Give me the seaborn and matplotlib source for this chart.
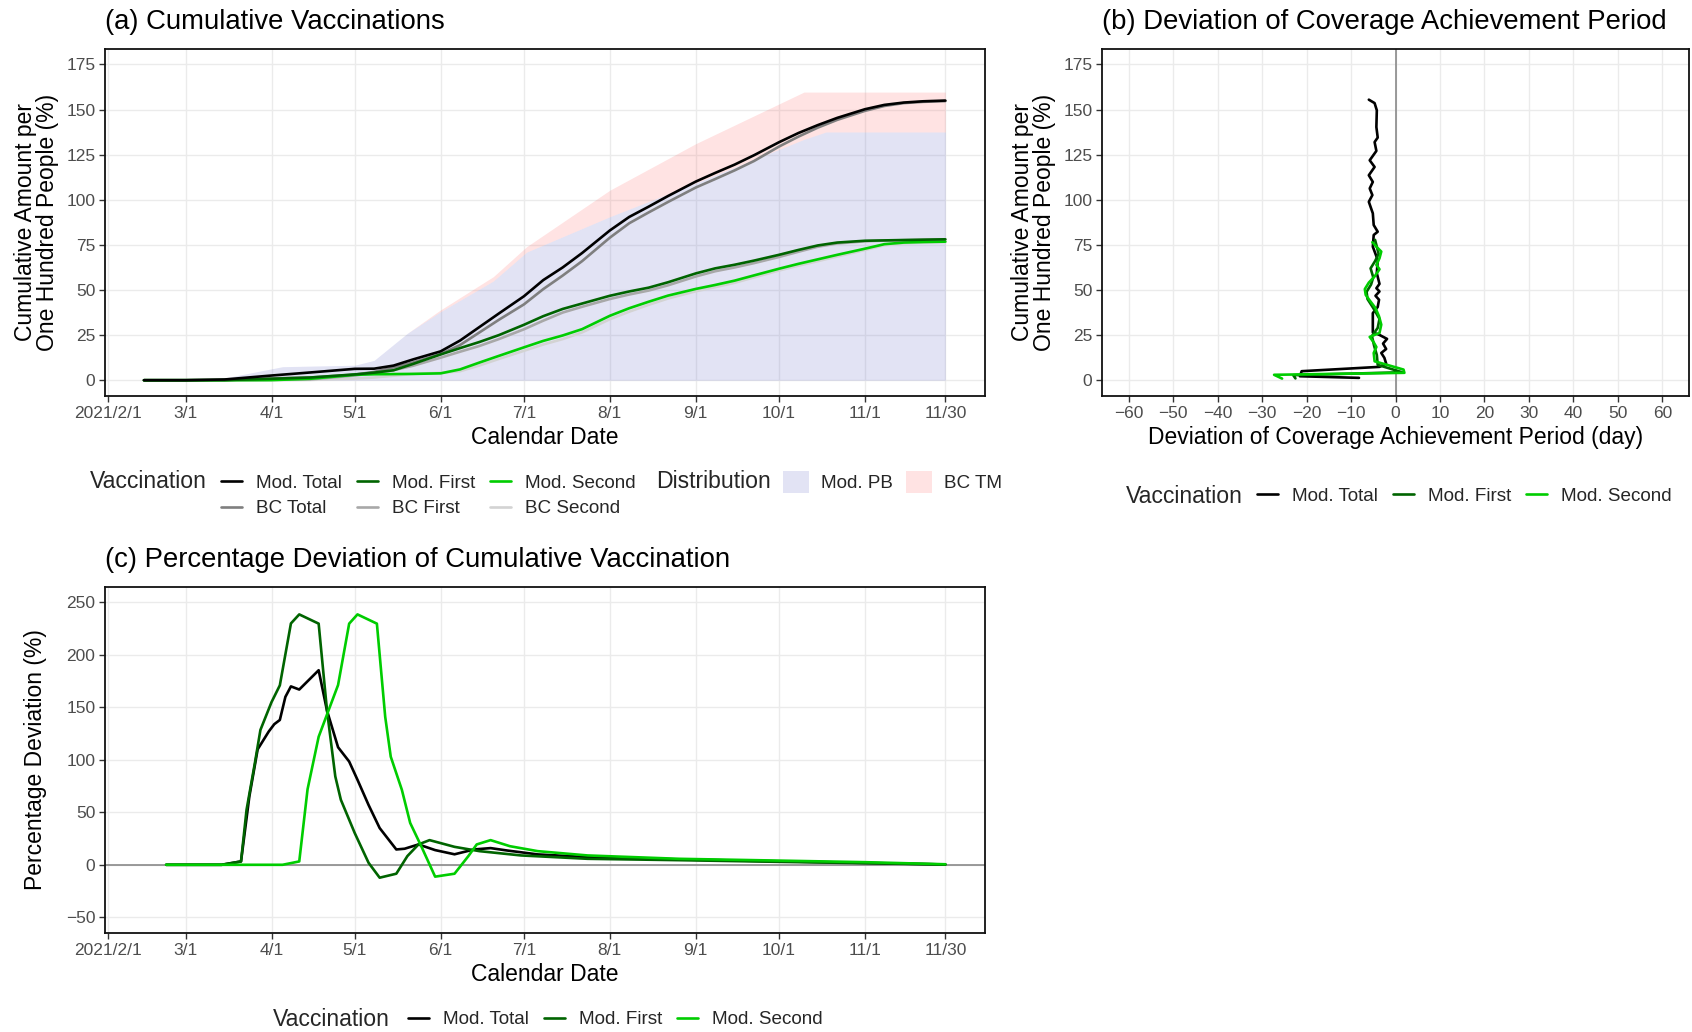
import numpy as np
import pandas as pd
import matplotlib
matplotlib.use("Agg")
import matplotlib.pyplot as plt
from matplotlib.lines import Line2D
from matplotlib.patches import Patch
import seaborn as sns

# ---------------- data ----------------
# (a) cumulative vaccinations per 100 people
a_dates = ["2021-02-14", "2021-03-01", "2021-03-15", "2021-04-01", "2021-04-15", "2021-05-01",
           "2021-05-08", "2021-05-15", "2021-05-22", "2021-06-01", "2021-06-08", "2021-06-15",
           "2021-06-22", "2021-07-01", "2021-07-08", "2021-07-15", "2021-07-22", "2021-08-01",
           "2021-08-08", "2021-08-15", "2021-08-22", "2021-09-01", "2021-09-08", "2021-09-15",
           "2021-09-22", "2021-10-01", "2021-10-08", "2021-10-15", "2021-10-22", "2021-11-01",
           "2021-11-08", "2021-11-15", "2021-11-22", "2021-11-30"]
a_mod_total = [0, 0, 0.4, 2.6, 4.3, 6.3, 6.4, 8.1, 11.5, 16.0, 22.0, 29.5, 37.0, 46.5, 55.5, 62.5,
               70.5, 83.0, 90.5, 96.2, 102.1, 110.1, 114.9, 119.5, 124.7, 131.9, 137.0, 141.4,
               145.4, 150.2, 152.6, 153.9, 154.6, 155.0]
a_bc_total = [0, 0, 0.1, 1.0, 1.5, 3.1, 4.6, 7.1, 9.8, 14.5, 19.5, 26.5, 33.5, 42.0, 50.5, 58.0,
              66.0, 79.0, 87.0, 93.0, 98.8, 106.8, 111.5, 116.3, 121.5, 129.5, 135.0, 140.0,
              144.3, 149.3, 152.0, 153.6, 154.3, 154.7]
a_mod_first = [0, 0, 0.1, 0.8, 1.5, 3.2, 4.2, 5.5, 9.0, 14.3, 17.8, 21.2, 25.0, 30.7, 35.5, 39.5,
               42.5, 46.8, 49.2, 51.3, 54.3, 59.2, 62.0, 64.0, 66.3, 69.5, 72.2, 74.7, 76.3,
               77.3, 77.5, 77.7, 77.9, 78.1]
a_bc_first = [0, 0, 0, 0.3, 0.45, 2.6, 4.0, 5.6, 8.0, 12.5, 15.8, 19.0, 22.8, 28.2, 33.0, 37.5,
              40.7, 45.0, 47.5, 49.7, 52.6, 57.5, 60.4, 62.5, 64.9, 68.3, 71.2, 74.0, 75.8,
              77.0, 77.4, 77.6, 77.8, 78.0]
a_mod_second = [0, 0, 0, 0.05, 0.8, 3.0, 3.3, 3.4, 3.5, 3.8, 6.0, 9.8, 13.5, 18.2, 21.8, 24.8,
                28.3, 35.7, 39.9, 43.5, 46.9, 50.6, 52.8, 55.2, 58.1, 61.8, 64.5, 67.0, 69.5,
                72.9, 75.4, 76.3, 76.6, 76.8]
a_bc_second = [0, 0, 0, 0, 0.2, 0.9, 1.5, 2.5, 3.5, 4.1, 5.0, 8.2, 11.8, 16.3, 19.8, 22.8, 26.5,
               33.8, 38.0, 41.8, 45.3, 49.3, 51.6, 54.0, 57.0, 60.8, 63.5, 66.0, 68.6, 72.2,
               74.8, 75.9, 76.3, 76.6]

# (a) distribution areas
dist_dates = ["2021-02-14", "2021-03-11", "2021-04-05", "2021-05-01", "2021-05-08", "2021-05-20",
              "2021-06-01", "2021-06-20", "2021-07-02", "2021-08-01", "2021-09-01", "2021-10-10",
              "2021-10-18", "2021-11-30"]
dist_mod_pb = [0, 0, 7.5, 8.3, 11.0, 26.0, 38.0, 55.0, 71.0, 90.6, 109.3, 133.5, 137.6, 137.6]
dist_bc_tm = [0, 0, 7.5, 8.3, 11.0, 26.0, 39.0, 57.4, 74.0, 105.3, 131.1, 159.7, 159.7, 159.7]

# (b) deviation of coverage achievement period (day) vs coverage
b_total_dev = [-8.2, -21.5, -21.1, -3.6, -2.1, -2.5, -3.2, -2.1, -2.8, -1.9, -3.6, -5.1, -5.1,
               -4.0, -3.7, -4.5, -3.6, -4.3, -3.6, -4.2, -4.0, -5.1, -4.9, -4.0, -4.9, -5.1,
               -6.0, -5.2, -5.8, -5.1, -6.0, -4.7, -5.8, -4.3, -4.7, -4.0, -4.3, -4.2, -4.7, -6.0]
b_total_cov = [1.3, 2.2, 5.0, 7.4, 9.2, 12.4, 15.1, 17.3, 20.3, 22.9, 25.1, 26.5, 37.2, 40.6,
               44.6, 46.8, 49.2, 51.0, 53.4, 59.3, 66.7, 74.0, 80.5, 82.3, 86.0, 92.5, 98.9,
               102.6, 106.3, 109.9, 113.6, 118.2, 121.9, 127.1, 132.0, 134.5, 140.3, 149.6,
               153.6, 155.5]
b_first_dev = [-22.5, -23.0, 1.5, -4.0, -4.2, -4.8, -5.3, -4.0, -3.6, -5.0, -6.3, -6.5, -5.5,
               -5.0, -5.6, -4.6, -3.8, -4.2, -4.6]
b_first_cov = [1.0, 2.8, 4.4, 8.5, 14.0, 19.0, 24.5, 29.0, 34.0, 40.0, 45.0, 49.0, 53.0, 57.0,
               62.0, 66.0, 70.0, 74.0, 77.8]
b_second_dev = [-25.5, -27.3, 2.0, 1.8, -4.7, -4.9, -4.3, -4.9, -5.8, -3.6, -3.2, -3.7, -4.5,
                -5.8, -6.7, -6.9, -6.0, -4.7, -3.6, -4.3, -3.6, -3.2, -4.3, -5.2]
b_second_cov = [0.9, 3.0, 4.1, 5.9, 10.5, 15.1, 18.4, 21.0, 24.0, 26.2, 30.8, 35.4, 40.0, 44.2,
                47.3, 50.5, 54.1, 57.5, 61.5, 63.9, 67.6, 71.3, 74.0, 76.5]

# (c) percentage deviation of cumulative vaccination
c_total_dates = ["2021-02-22", "2021-03-14", "2021-03-21", "2021-03-24", "2021-03-27", "2021-03-31",
                 "2021-04-02", "2021-04-04", "2021-04-06", "2021-04-08", "2021-04-11", "2021-04-18",
                 "2021-04-21", "2021-04-25", "2021-04-29", "2021-05-02", "2021-05-06", "2021-05-10",
                 "2021-05-16", "2021-05-19", "2021-05-24", "2021-05-30", "2021-06-06", "2021-06-13",
                 "2021-06-19", "2021-06-25", "2021-07-06", "2021-07-24", "2021-08-26", "2021-10-01",
                 "2021-11-01", "2021-11-30"]
c_total = [0, 0, 3.2, 65, 110, 127, 134, 138, 160, 170, 167, 185.4, 147, 112, 98.4, 81, 57, 35,
           14.6, 15.3, 19.4, 14, 10, 14.6, 15.9, 13.6, 9.9, 7.3, 5.1, 3.3, 1.8, 0.3]
c_first_dates = ["2021-02-22", "2021-03-14", "2021-03-21", "2021-03-23", "2021-03-26", "2021-03-28",
                 "2021-04-01", "2021-04-04", "2021-04-08", "2021-04-11", "2021-04-18", "2021-04-21",
                 "2021-04-24", "2021-04-26", "2021-05-01", "2021-05-06", "2021-05-10", "2021-05-16",
                 "2021-05-20", "2021-05-24", "2021-05-28", "2021-06-06", "2021-06-15", "2021-06-30",
                 "2021-07-24", "2021-08-26", "2021-10-01", "2021-11-01", "2021-11-30"]
c_first = [0, 0, 3.2, 52.5, 97, 128.5, 155, 171, 230, 238.6, 229.8, 147.3, 84.2, 62, 30.3, 1.9,
           -12.3, -8.5, 8.3, 19.4, 23.5, 17.1, 13, 8.9, 5.7, 4.4, 2.8, 1.5, 0.3]
c_second_dates = ["2021-02-22", "2021-04-05", "2021-04-11", "2021-04-14", "2021-04-18", "2021-04-25",
                  "2021-04-29", "2021-05-02", "2021-05-09", "2021-05-12", "2021-05-14", "2021-05-18",
                  "2021-05-21", "2021-05-25", "2021-05-30", "2021-06-06", "2021-06-11", "2021-06-14",
                  "2021-06-19", "2021-06-26", "2021-07-06", "2021-07-24", "2021-08-26", "2021-10-01",
                  "2021-11-01", "2021-11-30"]
c_second = [0, 0, 3.2, 72, 122, 171.3, 229.8, 238.6, 229.8, 141, 103, 71.5, 39.9, 17.7, -11.3,
            -8.5, 8.3, 19.4, 23.5, 17.7, 13, 8.9, 5.7, 4.0, 2.5, 0.5]

tick_dates = ["2021-02-01", "2021-03-01", "2021-04-01", "2021-05-01", "2021-06-01", "2021-07-01",
              "2021-08-01", "2021-09-01", "2021-10-01", "2021-11-01", "2021-11-30"]
tick_labels = ["2021/2/1", "3/1", "4/1", "5/1", "6/1", "7/1", "8/1", "9/1", "10/1", "11/1", "11/30"]

# ---------------- style ----------------
sns.set_theme(style="white")
plt.rcParams["font.family"] = ["Liberation Sans", "DejaVu Sans"]

colors = {"Mod. Total": "#000000", "Mod. First": "#006400", "Mod. Second": "#00CD00",
          "BC Total": "#7F7F7F", "BC First": "#A8A8A8", "BC Second": "#D3D3D3"}
fill_pb = (0.43, 0.45, 0.80, 0.20)
fill_tm = (1.00, 0.45, 0.45, 0.20)
LW = 1.9
TICK_FS, AX_FS, TITLE_FS, LEG_FS, LEGT_FS = 12.5, 16.5, 19.8, 13.6, 16.6

W, H = 1692, 1032
fig = plt.figure(figsize=(W / 100, H / 100), dpi=100)


def rect(l, t, r, b):
    return [l / W, 1 - b / H, (r - l) / W, (b - t) / H]


ax_a = fig.add_axes(rect(105, 48.7, 985, 396))
ax_b = fig.add_axes(rect(1102, 48.7, 1689, 396))
ax_c = fig.add_axes(rect(105, 586.7, 985, 933))


def style(ax):
    ax.set_facecolor("white")
    ax.grid(True, color="#EBEBEB", lw=1.0)
    ax.set_axisbelow(True)
    for s in ax.spines.values():
        s.set_color("#111111")
        s.set_linewidth(1.3)
        s.set_visible(True)
    ax.tick_params(axis="both", which="major", length=4, width=1.0, color="#333333",
                   labelcolor="#4D4D4D", labelsize=TICK_FS, pad=3, direction="out",
                   bottom=True, left=True, top=False, right=False)


t0 = pd.Timestamp("2021-02-01")
date_lim = (t0 - pd.Timedelta(days=1.05), t0 + pd.Timedelta(days=316.3))

# ---------------- (a) ----------------
style(ax_a)
dd = pd.to_datetime(dist_dates)
pb = np.array(dist_mod_pb)
tm = np.array(dist_bc_tm)
ax_a.fill_between(dd, 0, pb, color=fill_pb, lw=0, zorder=1)
ax_a.fill_between(dd, pb, np.maximum(tm, pb), color=fill_tm, lw=0, zorder=1)

series_a = {"BC Second": a_bc_second, "BC First": a_bc_first, "BC Total": a_bc_total,
            "Mod. Second": a_mod_second, "Mod. First": a_mod_first, "Mod. Total": a_mod_total}
df_a = pd.concat([pd.DataFrame({"date": pd.to_datetime(a_dates), "value": v, "series": k})
                  for k, v in series_a.items()], ignore_index=True)
sns.lineplot(data=df_a, x="date", y="value", hue="series", hue_order=list(series_a.keys()),
             palette=colors, linewidth=LW, legend=False, ax=ax_a, zorder=3)
ax_a.set_xlim(*date_lim)
ax_a.set_ylim(-8.75, 183.75)
ax_a.set_yticks([0, 25, 50, 75, 100, 125, 150, 175])
ax_a.set_xticks(pd.to_datetime(tick_dates))
ax_a.set_xticklabels(tick_labels)
ax_a.set_xlabel("Calendar Date", fontsize=AX_FS, color="black", labelpad=4)
ax_a.set_ylabel("Cumulative Amount per\nOne Hundred People (%)", fontsize=AX_FS, color="black",
                linespacing=0.95)
ax_a.yaxis.set_label_coords(-0.0527, 0.5)
ax_a.set_title("(a) Cumulative Vaccinations", loc="left", fontsize=TITLE_FS, pad=14, color="black")

# ---------------- (b) ----------------
style(ax_b)
ax_b.axvline(0, color="#808080", lw=1.1, zorder=1.5)
df_b = pd.concat([
    pd.DataFrame({"dev": b_total_dev, "cov": b_total_cov, "series": "Mod. Total"}),
    pd.DataFrame({"dev": b_first_dev, "cov": b_first_cov, "series": "Mod. First"}),
    pd.DataFrame({"dev": b_second_dev, "cov": b_second_cov, "series": "Mod. Second"}),
], ignore_index=True)
sns.lineplot(data=df_b, x="dev", y="cov", hue="series",
             hue_order=["Mod. Total", "Mod. First", "Mod. Second"], palette=colors,
             sort=False, estimator=None, linewidth=LW, legend=False, ax=ax_b, zorder=3)
ax_b.set_xlim(-66, 66)
ax_b.set_ylim(-8.75, 183.75)
ax_b.set_xticks(np.arange(-60, 61, 10))
ax_b.set_yticks([0, 25, 50, 75, 100, 125, 150, 175])
ax_b.set_xlabel("Deviation of Coverage Achievement Period (day)", fontsize=AX_FS, color="black",
                labelpad=4)
ax_b.set_ylabel("Cumulative Amount per\nOne Hundred People (%)", fontsize=AX_FS, color="black",
                linespacing=0.95)
ax_b.yaxis.set_label_coords(-0.0782, 0.5)
ax_b.set_title("(b) Deviation of Coverage Achievement Period", loc="left", fontsize=TITLE_FS,
               pad=14, color="black")

# ---------------- (c) ----------------
style(ax_c)
ax_c.axhline(0, color="#808080", lw=1.1, zorder=1.5)
df_c = pd.concat([
    pd.DataFrame({"date": pd.to_datetime(c_total_dates), "value": c_total, "series": "Mod. Total"}),
    pd.DataFrame({"date": pd.to_datetime(c_first_dates), "value": c_first, "series": "Mod. First"}),
    pd.DataFrame({"date": pd.to_datetime(c_second_dates), "value": c_second, "series": "Mod. Second"}),
], ignore_index=True)
sns.lineplot(data=df_c, x="date", y="value", hue="series",
             hue_order=["Mod. Total", "Mod. First", "Mod. Second"], palette=colors,
             linewidth=LW, legend=False, ax=ax_c, zorder=3)
ax_c.set_xlim(*date_lim)
ax_c.set_ylim(-65, 265)
ax_c.set_yticks([-50, 0, 50, 100, 150, 200, 250])
ax_c.set_xticks(pd.to_datetime(tick_dates))
ax_c.set_xticklabels(tick_labels)
ax_c.set_xlabel("Calendar Date", fontsize=AX_FS, color="black", labelpad=4)
ax_c.set_ylabel("Percentage Deviation (%)", fontsize=AX_FS, color="black")
ax_c.yaxis.set_label_coords(-0.0658, 0.5)
ax_c.set_title("(c) Percentage Deviation of Cumulative Vaccination", loc="left", fontsize=TITLE_FS,
               pad=14, color="black")

# ---------------- legends ----------------
leg_kw = dict(frameon=False, fontsize=LEG_FS, handlelength=1.1, handletextpad=0.75,
              columnspacing=0.8, labelspacing=0.45, borderpad=0, borderaxespad=0,
              loc="center left")


def vline_handles(labels):
    return [Line2D([], [], color=colors[l], lw=LW) for l in labels]


# (a) vaccination
lab_a = ["Mod. Total", "BC Total", "Mod. First", "BC First", "Mod. Second", "BC Second"]
fig.text(90 / W, 1 - 482 / H, "Vaccination", fontsize=LEGT_FS, ha="left", va="center")
fig.legend(vline_handles(lab_a), lab_a, ncol=3, bbox_to_anchor=(221 / W, 1 - 496 / H), **leg_kw)
# (a) distribution
fig.text(656 / W, 1 - 482 / H, "Distribution", fontsize=LEGT_FS, ha="left", va="center")
dist_kw = dict(leg_kw)
dist_kw.update(handlelength=1.4, handleheight=1.4, handletextpad=0.6, columnspacing=0.7)
fig.legend([Patch(facecolor=fill_pb, lw=0), Patch(facecolor=fill_tm, lw=0)], ["Mod. PB", "BC TM"],
           ncol=2, bbox_to_anchor=(783 / W, 1 - 482 / H), **dist_kw)
# (b)
lab3 = ["Mod. Total", "Mod. First", "Mod. Second"]
fig.text(1125.5 / W, 1 - 496.4 / H, "Vaccination", fontsize=LEGT_FS, ha="left", va="center")
fig.legend(vline_handles(lab3), lab3, ncol=3, bbox_to_anchor=(1257 / W, 1 - 496.4 / H), **leg_kw)
# (c)
fig.text(273 / W, 1 - 1019.7 / H, "Vaccination", fontsize=LEGT_FS, ha="left", va="center")
fig.legend(vline_handles(lab3), lab3, ncol=3, bbox_to_anchor=(408 / W, 1 - 1019.7 / H), **leg_kw)

fig.savefig("out.png", dpi=100, facecolor="white")
